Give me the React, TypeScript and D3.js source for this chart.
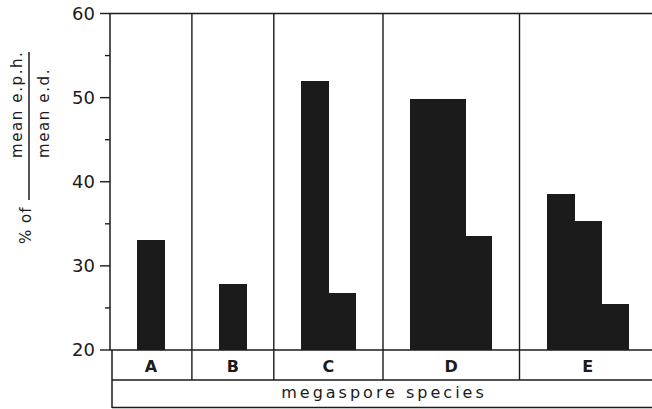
import React from "react";
import { scaleLinear } from "d3";

// megaspore species and their bars (% of mean e.p.h. / mean e.d.)
const species = ["A", "B", "C", "D", "E"];
const valuesA = [33.1];
const valuesB = [27.9];
const valuesC = [52.0, 26.8];
const valuesD = [49.8, 49.8, 33.6];
const valuesE = [38.5, 35.3, 25.5];
const majorTicks = [20, 30, 40, 50, 60];
const minorTicks = [25, 35, 45, 55];

const W = 652;
const H = 409;
const ink = "#1b1b1b";
const font = "'DejaVu Sans', sans-serif";

export default function App() {
  const groups = [valuesA, valuesB, valuesC, valuesD, valuesE];

  // each panel = one empty slot either side + one slot per bar
  let offset = 0;
  const panels = groups.map((vals, i) => {
    const start = offset;
    const units = vals.length + 2;
    offset += units;
    return { name: species[i], vals, start, end: start + units };
  });

  const x = scaleLinear().domain([0, offset]).range([110, 656]);
  const y = scaleLinear().domain([20, 60]).range([350, 13.5]);
  const rowTop = y(20);
  const rowMid = 380;
  const rowBot = 408;

  return (
    <svg
      width={W}
      height={H}
      style={{ position: "absolute", left: 0, top: 0, background: "#fff" }}
    >
      {/* bars */}
      {panels.map((p) =>
        p.vals.map((v, j) => {
          const x0 = Math.round(x(p.start + 1 + j));
          const x1 = Math.round(x(p.start + 2 + j));
          return (
            <rect
              key={p.name + j}
              x={x0}
              y={Math.round(y(v))}
              width={x1 - x0 + (j < p.vals.length - 1 ? 1 : 0)}
              height={Math.round(y(20)) - Math.round(y(v))}
              fill={ink}
              shapeRendering="crispEdges"
            />
          );
        })
      )}

      {/* frame */}
      <line x1={110} x2={W} y1={y(60)} y2={y(60)} stroke={ink} strokeWidth={1.5} />
      <line x1={110} x2={W} y1={rowTop} y2={rowTop} stroke={ink} strokeWidth={1.5} />
      <line x1={110} x2={110} y1={y(60)} y2={rowTop} stroke={ink} strokeWidth={1.5} />
      {panels.slice(1).map((p) => (
        <line
          key={"div" + p.name}
          x1={x(p.start)}
          x2={x(p.start)}
          y1={y(60)}
          y2={rowMid}
          stroke={ink}
          strokeWidth={1.4}
        />
      ))}

      {/* y axis ticks */}
      {majorTicks.map((t) => (
        <g key={"t" + t}>
          <line x1={100} x2={110} y1={y(t)} y2={y(t)} stroke={ink} strokeWidth={1.4} />
          <text
            x={95}
            y={y(t)}
            dy="0.36em"
            textAnchor="end"
            fontFamily={font}
            fontSize={18}
            fill={ink}
          >
            {t}
          </text>
        </g>
      ))}
      {minorTicks.map((t) => (
        <line key={"m" + t} x1={105} x2={110} y1={y(t)} y2={y(t)} stroke={ink} strokeWidth={1.4} />
      ))}

      {/* category rows */}
      <line x1={112} x2={112} y1={rowTop} y2={rowBot} stroke={ink} strokeWidth={1.5} />
      <line x1={112} x2={W} y1={rowMid} y2={rowMid} stroke={ink} strokeWidth={1.5} />
      <line x1={112} x2={W} y1={rowBot - 0.5} y2={rowBot - 0.5} stroke={ink} strokeWidth={1.5} />
      {panels.map((p) => (
        <text
          key={"lab" + p.name}
          x={(x(p.start) + x(p.end)) / 2}
          y={372}
          textAnchor="middle"
          fontFamily={font}
          fontSize={16}
          fontWeight="bold"
          fill={ink}
        >
          {p.name}
        </text>
      ))}
      <text
        x={384}
        y={398}
        textAnchor="middle"
        fontFamily={font}
        fontSize={16}
        letterSpacing={3}
        fill={ink}
      >
        megaspore species
      </text>

      {/* y axis title */}
      <text
        transform="translate(22,158) rotate(-90)"
        fontFamily={font}
        fontSize={15}
        letterSpacing={1.6}
        fill={ink}
      >
        mean e.p.h.
      </text>
      <line x1={29} x2={29} y1={52} y2={200} stroke={ink} strokeWidth={1.5} />
      <text
        transform="translate(49,158) rotate(-90)"
        fontFamily={font}
        fontSize={15}
        letterSpacing={1.6}
        fill={ink}
      >
        mean e.d.
      </text>
      <text
        transform="translate(31,244) rotate(-90)"
        fontFamily={font}
        fontSize={15}
        letterSpacing={1}
        fill={ink}
      >
        %  of
      </text>
    </svg>
  );
}
